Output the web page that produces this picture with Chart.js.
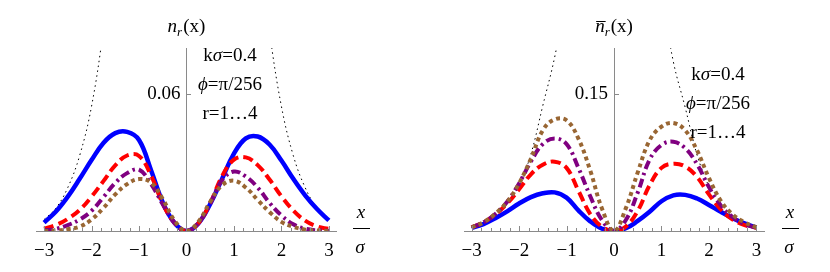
<!DOCTYPE html>
<html>
<head>
<meta charset="utf-8">
<script src="https://cdn.jsdelivr.net/npm/chart.js@4.4.0/dist/chart.umd.min.js"></script>
<style>
  body { margin: 0; background: #fff; width: 830px; height: 272px; overflow: hidden; }
  .panel { position: absolute; top: 0; width: 415px; height: 272px; }
</style>
</head>
<body>
<div class="panel" style="left:0"><canvas id="leftChart" width="415" height="272"></canvas></div>
<div class="panel" style="left:415px"><canvas id="rightChart" width="415" height="272"></canvas></div>
<script>
const xVals = [-3, -2.75, -2.5, -2.25, -2, -1.75, -1.5, -1.25, -1, -0.75, -0.5, -0.25, 0,
               0.25, 0.5, 0.75, 1, 1.25, 1.5, 1.75, 2, 2.25, 2.5, 2.75, 3];

// left panel, n_r(x)
const nR1 = [0.0037, 0.0085, 0.0150, 0.0228, 0.0310, 0.0385, 0.0428, 0.0433, 0.0398, 0.0268, 0.0125, 0.0035, 0,
             0.0033, 0.0118, 0.0228, 0.0338, 0.0405, 0.0413, 0.0378, 0.0308, 0.0228, 0.0156, 0.0096, 0.0046];
const nR2 = [0.0010, 0.0026, 0.0053, 0.0092, 0.0150, 0.0218, 0.0287, 0.0330, 0.0328, 0.0245, 0.0120, 0.0035, 0,
             0.0034, 0.0122, 0.0240, 0.0312, 0.0322, 0.0288, 0.0225, 0.0152, 0.0090, 0.0045, 0.0020, 0.0009];
const nR3 = [0.0003, 0.0009, 0.0026, 0.0050, 0.0088, 0.0148, 0.0210, 0.0253, 0.0268, 0.0207, 0.0117, 0.0035, 0,
             0.0034, 0.0120, 0.0222, 0.0260, 0.0238, 0.0190, 0.0123, 0.0068, 0.0029, 0.0010, 0.0003, 0.0001];
const nR4 = [0.0000, 0.0002, 0.0008, 0.0019, 0.0050, 0.0100, 0.0160, 0.0205, 0.0227, 0.0212, 0.0140, 0.0045, 0,
             0.0040, 0.0128, 0.0200, 0.0220, 0.0190, 0.0136, 0.0083, 0.0040, 0.0018, 0.0006, 0.0002, 0.0000];
const nEnv = [0.0050, 0.0100, 0.0190, 0.0330, 0.0545, 0.0880, 0.1300, null, null, null, null, null, null,
              null, null, null, null, null, 0.1280, 0.0870, 0.0545, 0.0330, 0.0190, 0.0100, 0.0050];

// right panel, n-bar_r(x)
const nbR1 = [0.0035, 0.0075, 0.0140, 0.0215, 0.0300, 0.0370, 0.0412, 0.0422, 0.0365, 0.0225, 0.0105, 0.0025, 0,
              0.0030, 0.0110, 0.0210, 0.0325, 0.0390, 0.0395, 0.0355, 0.0285, 0.0210, 0.0140, 0.0083, 0.0038];
const nbR2 = [0.0038, 0.0095, 0.0180, 0.0300, 0.0455, 0.0620, 0.0725, 0.0758, 0.0690, 0.0440, 0.0185, 0.0045, 0,
              0.0050, 0.0220, 0.0500, 0.0690, 0.0735, 0.0705, 0.0590, 0.0400, 0.0235, 0.0125, 0.0065, 0.0035];
const nbR3 = [0.0038, 0.0095, 0.0185, 0.0320, 0.0520, 0.0760, 0.0950, 0.1012, 0.0950, 0.0690, 0.0380, 0.0115, 0,
              0.0120, 0.0420, 0.0780, 0.0940, 0.0975, 0.0905, 0.0730, 0.0480, 0.0280, 0.0150, 0.0075, 0.0035];
const nbR4 = [0.0038, 0.0095, 0.0190, 0.0320, 0.0520, 0.0790, 0.1100, 0.1220, 0.1210, 0.1010, 0.0660, 0.0240, 0,
              0.0250, 0.0640, 0.0990, 0.1140, 0.1180, 0.1100, 0.0880, 0.0580, 0.0330, 0.0180, 0.0095, 0.0040];
const nbEnv = [null, null, null, null, 0.0480, 0.0840, 0.1370, 0.1900, 0.2600, null, null, null, null,
               null, null, null, 0.2600, 0.1850, 0.1350, 0.0830, 0.0480, null, null, null, null];

const xTicks = [-3, -2, -1, 0, 1, 2, 3];
const leftYTicks = [0.06];
const rightYTicks = [0.15];
const notes = ['kσ=0.4', 'ϕ=π/256', 'r=1…4'];

const serif = 'Liberation Serif';
const axisGray = '#8a8a8a';
Chart.defaults.font.family = serif;

function line(vals, color, width, dash, order) {
  return {
    data: vals.map((v, i) => ({x: xVals[i], y: v})),
    borderColor: color,
    borderWidth: width,
    borderDash: dash,
    borderCapStyle: 'butt',
    pointRadius: 0,
    tension: 0.4,
    fill: false,
    spanGaps: false,
    order: order
  };
}

// draws text with greek letters in italic
function drawNote(ctx, str, cx, y) {
  const parts = [];
  for (const ch of str) {
    const it = 'σϕ'.includes(ch);
    const font = (it ? 'italic ' : '') + '19px "' + serif + '"';
    ctx.font = font;
    parts.push([ch, font, ctx.measureText(ch).width]);
  }
  let w = parts.reduce((a, p) => a + p[2], 0);
  let x = cx - w / 2;
  parts.forEach(p => { ctx.font = p[1]; ctx.fillText(p[0], x, y); x += p[2]; });
}

function decor(cfg) {
  return {
    id: 'decor',
    afterDraw(chart) {
      const ctx = chart.ctx;
      const xs = chart.scales.x, ys = chart.scales.y;
      const area = chart.chartArea;
      const x0 = xs.getPixelForValue(0);
      const f = '"' + serif + '"';
      ctx.save();
      // tick marks on x axis, pointing up
      ctx.strokeStyle = axisGray;
      ctx.lineWidth = 1;
      ctx.beginPath();
      for (let k = -15; k <= 15; k++) {
        const px = Math.round(xs.getPixelForValue(k * 0.2)) + 0.5;
        const len = k % 5 === 0 ? 5 : 3;
        ctx.moveTo(px, area.bottom);
        ctx.lineTo(px, area.bottom - len);
      }
      cfg.yTicks.forEach(v => {
        const py = Math.round(ys.getPixelForValue(v)) + 0.5;
        ctx.moveTo(Math.round(x0) + 0.5, py);
        ctx.lineTo(Math.round(x0) + 5, py);
      });
      ctx.stroke();

      ctx.fillStyle = '#000';
      ctx.textBaseline = 'middle';
      ctx.textAlign = 'right';
      ctx.font = '19px ' + f;
      cfg.yTicks.forEach(v => {
        ctx.fillText(cfg.yLabel, x0 - 6, ys.getPixelForValue(v));
      });

      // title n_r(x)
      ctx.textBaseline = 'alphabetic';
      ctx.textAlign = 'left';
      ctx.font = 'italic 19px ' + f;
      const wn = ctx.measureText('n').width;
      ctx.font = 'italic 13px ' + f;
      const wr = ctx.measureText('r').width;
      ctx.font = '19px ' + f;
      const wx = ctx.measureText('(x)').width;
      let tx = x0 - (wn + wr + 1 + wx) / 2;
      ctx.font = 'italic 19px ' + f;
      ctx.fillText('n', tx, cfg.titleY);
      if (cfg.bar) {
        ctx.fillRect(tx + 1, cfg.titleY - 11, wn, 1);
      }
      ctx.font = 'italic 13px ' + f;
      ctx.fillText('r', tx + wn, cfg.titleY + 4);
      ctx.font = '19px ' + f;
      ctx.fillText('(x)', tx + wn + wr + 1, cfg.titleY);

      // parameter notes
      notes.forEach((s, i) => drawNote(ctx, s, cfg.noteX, cfg.noteY + i * 29));

      // x / sigma axis label
      ctx.textAlign = 'center';
      ctx.font = 'italic 19px ' + f;
      ctx.fillText('x', cfg.axX, 218);
      ctx.fillText('σ', cfg.axX - 1, 253);
      ctx.fillRect(cfg.axX - 8, 228, 17, 1);
      ctx.restore();
    }
  };
}

function makeChart(id, cfg) {
  return new Chart(document.getElementById(id).getContext('2d'), {
    type: 'line',
    data: {
      datasets: [
        line(cfg.env, '#000', 1, [1.5, 3.5], 4),
        line(cfg.s1, '#0000ff', 4.5, [], 3),
        line(cfg.s2, '#ff0000', 4, [10, 5], 2),
        line(cfg.s3, '#800080', 4, [9, 4, 2.5, 4], 1),
        line(cfg.s4, '#996633', 4, [4, 3.5], 0)
      ]
    },
    options: {
      responsive: false,
      animation: false,
      events: [],
      layout: { padding: { left: cfg.padL, right: cfg.padR, top: 48, bottom: 0 } },
      plugins: { legend: { display: false }, tooltip: { enabled: false } },
      scales: {
        x: {
          type: 'linear',
          min: cfg.xMin,
          max: cfg.xMax,
          grid: { display: false },
          border: { color: axisGray, width: 1 },
          afterFit: s => { s.height = 41; },
          afterBuildTicks: s => { s.ticks = xTicks.map(v => ({ value: v })); },
          ticks: {
            autoSkip: false,
            maxRotation: 0,
            padding: 1,
            color: '#000',
            font: { family: serif, size: 19 },
            callback: v => v < 0 ? '\u2212' + (-v) : '' + v
          }
        },
        y: {
          type: 'linear',
          min: 0,
          max: cfg.yMax,
          position: { x: 0 },
          grid: { display: false },
          border: { color: axisGray, width: 1 },
          ticks: { display: false },
          afterFit: s => { s.width = 0; }
        }
      }
    },
    plugins: [decor(cfg)]
  });
}

makeChart('leftChart', {
  s1: nR1, s2: nR2, s3: nR3, s4: nR4, env: nEnv,
  xMin: -3.17, xMax: 3.15, yMax: 0.08, padL: 36, padR: 79,
  yTicks: leftYTicks, yLabel: '0.06',
  titleY: 32, bar: false,
  noteX: 230, noteY: 61,
  axX: 361
});

makeChart('rightChart', {
  s1: nbR1, s2: nbR2, s3: nbR3, s4: nbR4, env: nbEnv,
  xMin: -3.16, xMax: 3.16, yMax: 0.2, padL: 49, padR: 66,
  yTicks: rightYTicks, yLabel: '0.15',
  titleY: 32, bar: true,
  noteX: 303, noteY: 80,
  axX: 375
});
</script>
</body>
</html>
